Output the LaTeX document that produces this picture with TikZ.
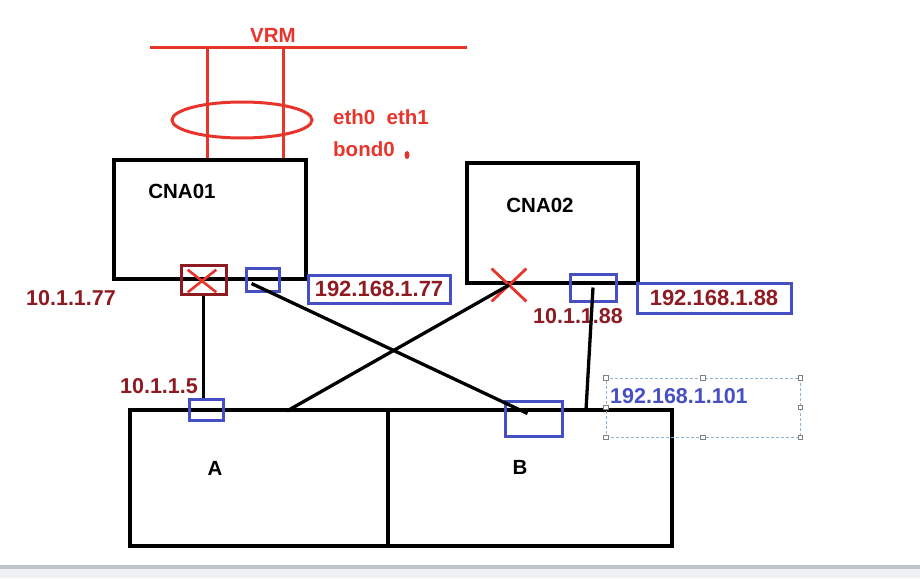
\documentclass[tikz,border=0pt]{standalone}
\usepackage{fontspec}
\setmainfont{Liberation Sans}
\usetikzlibrary{shapes, shapes.misc, shapes.geometric, positioning, calc}
\definecolor{vrmred}{HTML}{E8352C}
\definecolor{ipred}{HTML}{8E1B22}
\definecolor{portblue}{HTML}{4650C4}
\definecolor{selblue}{HTML}{8FB3D0}
\definecolor{barline}{HTML}{BDC4CC}
\definecolor{barfill}{HTML}{F0F1F4}

\begin{document}
\begin{tikzpicture}[x=1pt, y=-1pt, every node/.style={font=\fontsize{20.5}{24}\selectfont\bfseries}]
            \tikzstyle{cna} = [draw, rectangle, line width=3.3pt, inner sep=0pt]
            \tikzstyle{port} = [draw=portblue, rectangle, line width=3pt, inner sep=0pt]
            \tikzstyle{ipbox} = [draw=portblue, rectangle, line width=3pt, text=ipred, inner sep=0pt, font=\fontsize{22}{26}\selectfont\bfseries]
            \tikzstyle{addr} = [text=ipred, inner sep=0pt, font=\fontsize{21.5}{26}\selectfont\bfseries]
            \tikzstyle{link} = [draw, line width=3.3pt]
            \tikzstyle{bus} = [draw=vrmred, line width=3pt]
            \tikzstyle{handle} = [draw=gray, fill=white, line width=0.6pt, minimum size=4.5pt, inner sep=0pt]
            \useasboundingbox (0,0) rectangle (920,578);

            % VRM network and bond
            \node[text=vrmred, inner sep=0pt] (vrm) at (273,35) {VRM};
            \coordinate (busL) at (150,48);
            \coordinate (busR) at (467,48);
            \draw[bus] (busL) -- (busR);
            \draw[bus] (207,48) -- (207,161);
            \draw[bus] (283,48) -- (283,160);
            \node[draw=vrmred, ellipse, line width=3pt, minimum width=140, minimum height=36, inner sep=0pt] (bond) at (242,120) {};
            \node[text=vrmred, anchor=west, inner sep=0pt] (eth) at (333,117) {eth0~~eth1};
            \node[text=vrmred, anchor=west, inner sep=0pt] (bondname) at (333,149) {bond0};
            \node[fill=vrmred, ellipse, minimum width=5, minimum height=8, inner sep=0pt] (dot) at (407,155) {};

            % hosts
            \node[cna, minimum width=192, minimum height=119] (cna01) at (210,219.5) {};
            \node[cna, minimum width=171, minimum height=120] (cna02) at (552.5,223) {};
            \node[inner sep=0pt] (cna01name) at (182,191) {CNA01};
            \node[inner sep=0pt] (cna02name) at (540,205) {CNA02};

            \node[cna, minimum width=258, minimum height=136] (hostA) at (259,478) {};
            \node[cna, minimum width=284, minimum height=136] (hostB) at (530,478) {};
            \node[inner sep=0pt] (nameA) at (215,468) {A};
            \node[inner sep=0pt] (nameB) at (520,467) {B};

            % ports
            \node[draw=ipred, rectangle, line width=3pt, minimum width=45, minimum height=29, inner sep=0pt] (badport) at (203.5,279.5) {};
            \node[draw=vrmred, cross out, line width=2.6pt, minimum width=26, minimum height=20, inner sep=0pt] (badmark) at (202,281) {};
            \node[port, minimum width=33, minimum height=23] (port77) at (262.5,279.5) {};
            \node[port, minimum width=46, minimum height=27] (port88) at (593,287.5) {};
            \node[port, minimum width=34, minimum height=21] (portA) at (206,409.5) {};
            \node[port, minimum width=57, minimum height=35] (portB) at (533.5,418.5) {};
            \node[draw=vrmred, cross out, line width=2.8pt, minimum width=32, minimum height=30, inner sep=0pt] (cut) at (509,285) {};

            % addresses
            \node[addr] (ip1) at (71,298) {10.1.1.77};
            \node[addr] (ip5) at (159,386) {10.1.1.5};
            \node[addr] (ip88) at (578,316) {10.1.1.88};
            \node[ipbox, minimum width=142, minimum height=28] (ip77box) at (379,289) {192.168.1.77};
            \node[ipbox, minimum width=154, minimum height=30] (ip88box) at (714,298) {192.168.1.88};

            % links
            \coordinate (aTop) at (287,411);
            \coordinate (bTop) at (586,410);
            \draw[link, line width=3.6pt] (badport.south) -- (badport.south |- portA.north);
            \draw[link] ([xshift=-11pt, yshift=-4pt]port77.center) -- ([xshift=-6pt, yshift=5pt]portB.center);
            \draw[link] (aTop) -- (cut.center);
            \draw[link] (port88.center) -- (bTop);

            % selected text box
            \node[draw=selblue, dashed, dash pattern=on 3pt off 2pt, line width=0.9pt, minimum width=194, minimum height=59, inner sep=0pt] (sel) at (703,407.5) {};
            \foreach \a [count=\i] in {north west, north, north east, east, south east, south, south west, west}
                \node[handle] (handle\i) at (sel.\a) {};
            \node[addr, text=portblue, anchor=west] (ip101) at (610,396) {192.168.1.101};

            % window bar
            \fill[barline] (0,565) rectangle (920,569);
            \fill[barfill] (0,569) rectangle (920,578);
        \end{tikzpicture}
\end{document}
